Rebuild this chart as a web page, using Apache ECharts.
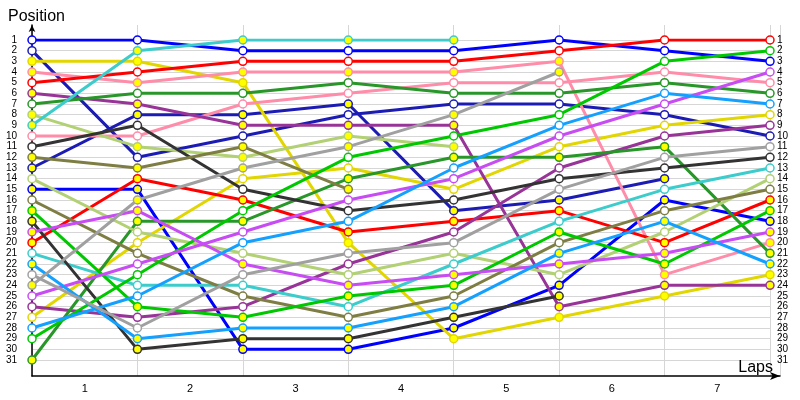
<!DOCTYPE html>
<html>
<head>
<meta charset="utf-8">
<script src="https://cdn.jsdelivr.net/npm/echarts@6/dist/echarts.min.js"></script>
<style>
  html, body { margin: 0; background: #fff; }
  #chart { width: 800px; height: 400px; }
</style>
</head>
<body>
<div id="chart"></div>
<script>
// lap labels on the x axis (points sit on lap boundaries 0..7)
const lapLabels = ['1', '2', '3', '4', '5', '6', '7'];

// position after lap 0..7, null = out of the race
const blueA      = [1, 1, 2, 2, 2, 1, 2, 3];
const blueB      = [15, 15, 30, 30, 28, 24, 16, 18];
const darkblueA  = [2, 12, 10, 8, 7, 7, 8, 10];
const darkblueB  = [13, 8, 8, 7, 17, 16, 14, null];
const yellowA    = [27, 20, 14, 13, 15, 11, 9, 8];
const yellowB    = [3, 3, 5, 20, 29, 27, 25, 23];
const pinkA      = [10, 10, 7, 6, 5, 5, 4, 5];
const pinkB      = [4, 5, 4, 4, 4, 3, 23, 20];
const redA       = [5, 4, 3, 3, 3, 2, 1, 1];
const redB       = [20, 14, 16, 19, 18, 17, 20, 16];
const purpleA    = [26, 27, 26, 22, 19, 13, 10, 9];
const purpleB    = [6, 7, 9, 9, 9, 26, 24, 24];
const forestA    = [7, 6, 6, 5, 6, 6, 5, 6];
const forestB    = [31, 18, 18, 14, 12, 12, 11, 21];
const lightgrnA  = [14, 19, 21, 23, 21, 23, 19, 14];
const lightgrnB  = [8, 11, 12, 10, 11, null, null, null];
const cyanA      = [21, 24, 24, 26, 22, 18, 15, 13];
const cyanB      = [9, 2, 1, 1, 1, null, null, null];
const blackA     = [11, 9, 15, 17, 16, 14, 13, 12];
const blackB     = [18, 30, 29, 29, 27, 25, null, null];
const oliveA     = [16, 21, 25, 27, 25, 20, 17, 15];
const oliveB     = [12, 13, 11, 15, null, null, null, null];
const greenA     = [29, 23, 17, 12, 10, 8, 3, 2];
const greenB     = [17, 26, 27, 25, 24, 19, 22, 17];
const violetA    = [25, 22, 19, 16, 14, 10, 7, 4];
const violetB    = [19, 17, 22, 24, 23, 22, 21, 19];
const lightblueA = [28, 25, 20, 18, 13, 9, 6, 7];
const lightblueB = [22, 29, 28, 28, 26, 21, 18, 22];
const grayA      = [23, 28, 23, 21, 20, 15, 12, 11];
const grayB      = [24, 16, 13, 11, 8, 4, null, null];

// A = white marker, B = yellow marker
const WHITE = '#ffffff';
const YELLOW = '#ffff00';
const drivers = [
  [blueA, '#0000ff', WHITE], [blueB, '#0000ff', YELLOW],
  [darkblueA, '#1c1cb4', WHITE], [darkblueB, '#1c1cb4', YELLOW],
  [yellowA, '#e2d600', WHITE], [yellowB, '#e2d600', YELLOW],
  [pinkA, '#ff8ca8', WHITE], [pinkB, '#ff8ca8', YELLOW],
  [redA, '#ff0000', WHITE], [redB, '#ff0000', YELLOW],
  [purpleA, '#983498', WHITE], [purpleB, '#983498', YELLOW],
  [forestA, '#289628', WHITE], [forestB, '#289628', YELLOW],
  [lightgrnA, '#b2d074', WHITE], [lightgrnB, '#b2d074', YELLOW],
  [cyanA, '#3ccccc', WHITE], [cyanB, '#3ccccc', YELLOW],
  [blackA, '#333333', WHITE], [blackB, '#333333', YELLOW],
  [oliveA, '#7e7e44', WHITE], [oliveB, '#7e7e44', YELLOW],
  [greenA, '#00c800', WHITE], [greenB, '#00c800', YELLOW],
  [violetA, '#c84cf4', WHITE], [violetB, '#c84cf4', YELLOW],
  [lightblueA, '#14a0ff', WHITE], [lightblueB, '#14a0ff', YELLOW],
  [grayA, '#a0a0a0', WHITE], [grayB, '#a0a0a0', YELLOW]
];

const FONT = 'Liberation Sans';

const series = drivers.map(([arr, color, fill]) => ({
  type: 'line',
  xAxisIndex: 0,
  yAxisIndex: 0,
  data: arr.map((p, i) => [i, p]).filter(d => d[1] != null),
  symbol: 'circle',
  symbolSize: 8,
  lineStyle: { color: color, width: 3 },
  itemStyle: { color: fill, borderColor: color, borderWidth: 1.5 },
  emphasis: { disabled: true }
}));

const chart = echarts.init(document.getElementById('chart'));
chart.setOption({
  animation: false,
  title: [
    { text: 'Position', left: 3, top: 4, textStyle: { fontFamily: FONT, fontSize: 16, fontWeight: 'normal', color: '#000' } },
    { text: 'Laps', right: 22, top: 355, textStyle: { fontFamily: FONT, fontSize: 16, fontWeight: 'normal', color: '#000' } }
  ],
  grid: [
    { left: 32, right: 30, top: 40, height: 320 },
    { left: 32, right: 20, top: 25, bottom: 24 }
  ],
  xAxis: [
    {
      gridIndex: 0, type: 'value', min: 0, max: 7, interval: 1,
      axisLine: { show: false }, axisTick: { show: false },
      axisLabel: { show: false }, splitLine: { show: false }
    },
    {
      gridIndex: 0, type: 'category', data: lapLabels, boundaryGap: true,
      position: 'bottom', offset: 16,
      axisLine: { show: false }, axisTick: { show: false },
      axisLabel: { margin: 7, fontFamily: FONT, fontSize: 11, color: '#000' },
      splitLine: { show: false }
    },
    {
      gridIndex: 1, type: 'value', min: 0, max: 7 * 748 / 738, interval: 1,
      axisLine: { show: true, lineStyle: { color: '#000', width: 1.5 }, symbol: ['none', 'arrow'], symbolSize: [6, 10] },
      axisTick: { show: false }, axisLabel: { show: false },
      splitLine: { show: true, lineStyle: { color: '#d6d6d6', width: 1 } }
    }
  ],
  yAxis: [
    {
      gridIndex: 0, type: 'value', inverse: true, min: 1, max: 31, interval: 1,
      axisLine: { show: false }, axisTick: { show: false },
      axisLabel: { margin: 15, fontFamily: FONT, fontSize: 10, color: '#000' },
      splitLine: { show: true, lineStyle: { color: '#d6d6d6', width: 1 } }
    },
    {
      gridIndex: 0, type: 'value', inverse: true, min: 1, max: 31, interval: 1,
      position: 'right',
      axisLine: { show: false }, axisTick: { show: false },
      axisLabel: { margin: 7, fontFamily: FONT, fontSize: 10, color: '#000' },
      splitLine: { show: false }
    },
    {
      gridIndex: 1, type: 'value', min: 0, max: 1,
      axisLine: { show: true, lineStyle: { color: '#000', width: 1.5 }, symbol: ['none', 'arrow'], symbolSize: [5, 7] },
      axisTick: { show: false }, axisLabel: { show: false },
      splitLine: { show: false }
    }
  ],
  series: series
});
</script>
</body>
</html>
